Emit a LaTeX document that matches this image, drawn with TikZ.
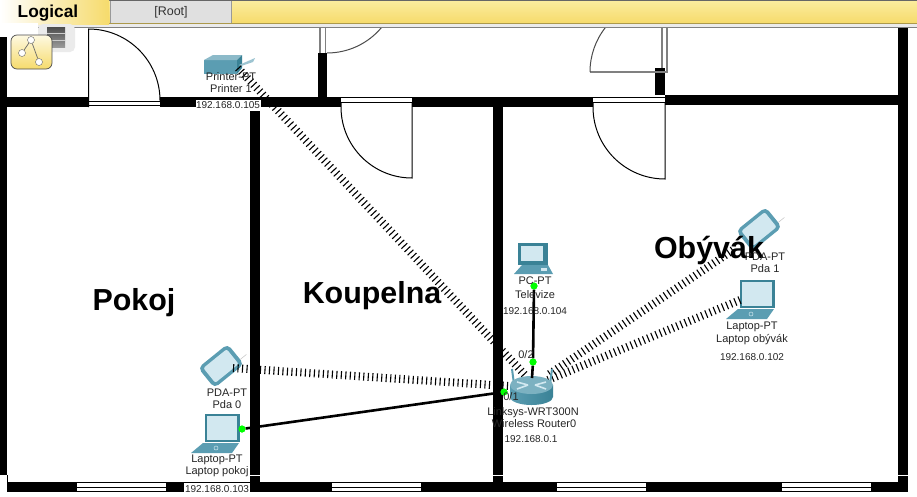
\documentclass[tikz,border=0pt]{standalone}
\usepackage{fontspec}
\setmainfont{Liberation Sans}
\usepackage{tikz}
\definecolor{devTeal}{HTML}{5B9DB2}
\definecolor{devLight}{HTML}{D2E8F0}
\definecolor{devDark}{HTML}{3A8296}
\definecolor{barTop}{HTML}{FBEC9F}
\definecolor{barLow}{HTML}{F6DB6C}
\tikzset{
  wall/.style={fill=black,draw=none},
  gap/.style={fill=white,draw=none},
  doorline/.style={draw=black,line width=1pt},
  greyline/.style={draw=black!50,line width=1.3pt},
  wire/.style={draw=black,line width=2.6pt},
  radio/.style={draw=black,line width=8pt,dash pattern=on 1.1pt off 3.4pt},
  port/.style={circle,fill=green,inner sep=0pt,minimum size=7pt},
  lbl/.style={font=\fontsize{11}{11}\selectfont,inner sep=0pt,text=black!85},
  iplbl/.style={font=\fontsize{10}{10}\selectfont,inner sep=0pt,text=black!85},
  room/.style={font=\fontsize{30.4}{30}\selectfont\bfseries,inner sep=0pt},
  laptop/.pic={
    \fill[devDark] (14,1) -- (49,1) -- (49,29) -- (14,29) -- cycle;
    \fill[devLight] (16,3) -- (46,3) -- (46,27) -- (16,27) -- cycle;
    \fill[devTeal] (12,30) -- (48,30) -- (41,40) -- (0,40) -- cycle;
    \draw[devLight,line width=.5pt] (25,35) circle (2);
  },
  pda/.pic={
    \fill[rounded corners=5pt,devTeal] (-13,-19) rectangle (13,19);
    \fill[rounded corners=2pt,devLight] (-9.5,-15) rectangle (9.5,15);
    \draw[black!20,line width=.6pt] (7,-19) -- (7,-27);
  },
  printer/.pic={
    \fill[devTeal] (0,5) rectangle (33,19);
    \fill[devTeal!70!white] (0,5) -- (9,0) -- (38,0) -- (33,5) -- cycle;
    \fill[devDark] (33,5) -- (38,0) -- (38,13) -- (33,19) -- cycle;
    \fill[devTeal!60!white] (35,10) -- (51,3) -- (49,7) -- (37,11) -- cycle;
  },
  desktop/.pic={
    \fill[devDark] (4,0) -- (34,0) -- (34,22) -- (4,22) -- cycle;
    \fill[devLight] (7,3) rectangle (29,18);
    \fill[devTeal] (8,22) -- (34,22) -- (39,31) -- (0,31) -- cycle;
    \fill[devLight] (27,25) rectangle (33,28);
  },
}
\begin{document}
\begin{tikzpicture}[x=1pt,y=-1pt]
\useasboundingbox (0,0) rectangle (917,496);
% walls
\fill[white] (0,0) rectangle (917,496);
\fill[wall] (0,97) rectangle (665,107); \fill[wall] (665,95) rectangle (908,105);
\fill[wall] (0,30) rectangle (7,475); \fill[wall] (898,28) rectangle (908,475);
\fill[wall] (250,107) rectangle (260,475); \fill[wall] (493,107) rectangle (503,475);
\fill[wall] (7,482) rectangle (908,492);
\fill[wall] (250,476) rectangle (260,482); \fill[wall] (493,476) rectangle (503,482); \fill[wall] (898,476) rectangle (908,482);
\draw[line width=.8pt] (7.4,475) -- (7.4,492);
\fill[wall] (318,53) rectangle (327,97); \fill[wall] (655,68) rectangle (665,95);
% windows
\foreach \winx in {77,332,557,782} {
  \fill[gap] (\winx,483) rectangle (\winx+89,487);
  \fill[gap] (\winx,488) rectangle (\winx+89,491);
}
% doors
\fill[gap] (89,97) rectangle (160,107); \fill[gap] (341,97) rectangle (412,107); \fill[gap] (593,97) rectangle (665,107);
\draw[doorline] (89,101) -- (160,101); \draw[doorline] (89,105.5) -- (160,105.5);
\draw[doorline] (341,97.5) -- (412,97.5); \draw[doorline] (341,102.5) -- (412,102.5);
\draw[doorline] (593,97.5) -- (665,97.5); \draw[doorline] (593,102.5) -- (665,102.5);
\draw[doorline] (88.5,107) -- (88.5,29) arc[start angle=90,end angle=0,radius=71.5pt];
\draw[doorline] (341,102) -- (341,107) arc[start angle=180,end angle=270,radius=71pt] -- (412,102);
\draw[doorline] (593,102) -- (593,107) arc[start angle=180,end angle=270,radius=72pt] -- (665,102);
\draw[greyline] (320,28) -- (320,53); \draw[greyline] (325.5,28) -- (325.5,53);
\draw[doorline,draw=black!70] (327,53) arc[start angle=270,end angle=320,radius=71pt];
\draw[greyline] (662,28) -- (662,68); \draw[greyline] (667,28) -- (667,72) -- (590,72);
\draw[doorline,draw=black!70] (590,72) arc[start angle=180,end angle=142,radius=72pt];
% devices
\pic at (204,55) {printer};
\pic at (191,413) {laptop};
\pic at (726,279) {laptop};
\pic at (514,243) {desktop};
\pic[rotate=-51] at (221,366) {pda};
\pic[rotate=-51] at (759,229) {pda};
\coordinate (printerEnd) at (238,68); \coordinate (pda0End) at (233,368);
\coordinate (pda1End) at (733,250); \coordinate (laptop1End) at (740,300);
\coordinate (routerA) at (525,375); \coordinate (routerB) at (508,386);
\coordinate (routerC) at (548,375); \coordinate (routerD) at (548,380);
\draw[radio] (printerEnd) -- (routerA);
\draw[radio] (pda0End) -- (routerB);
\draw[radio] (pda1End) -- (routerC);
\draw[radio] (laptop1End) -- (routerD);
% router
\draw[devTeal,line width=2pt] (512,369) -- (514,384) (552,369) -- (550,384);
\shade[left color=devTeal,middle color=white,right color=devDark] (510,385) -- (510,397) arc[start angle=180,end angle=360,x radius=21.5pt,y radius=8pt] -- (553,385) -- cycle;
\fill[devTeal!80!white] (531.5,385) ellipse (21.5 and 9);
\draw[devLight,line width=1.6pt] (517,382) -- (528,385) (546,382) -- (535,385) (517,389) -- (528,385) (546,389) -- (535,385);
% rooms
\node[room] (pokoj) at (134,303) {Pokoj};
\node[room] (koupelna) at (372,296) {Koupelna};
\node[room] (obyvak) at (709,250) {Obývák};
\node[port] (portLaptop) at (242,429) {}; \node[port] (portRouterA) at (504,392) {};
\node[port] (portPc) at (534,286) {}; \node[port] (portRouterB) at (533,362) {};
\coordinate (routerTop) at (532,378);
\draw[wire] (portLaptop) -- (portRouterA);
\draw[wire] (portPc) -- (portRouterB) -- (routerTop);
\node[port] at (portLaptop) {}; \node[port] at (portRouterA) {};
\node[port] at (portPc) {}; \node[port] at (portRouterB) {};
% labels
\node[lbl] (l1) at (231,77) {Printer-PT}; \node[lbl] (l2) at (231,89) {Printer 1};
\node[iplbl,fill=white,minimum width=65pt,minimum height=11pt] (l3) at (228,105.5) {192.168.0.105};
\node[lbl] (l4) at (227,393) {PDA-PT}; \node[lbl] (l5) at (227,405) {Pda 0};
\node[lbl] (l6) at (217,460) {Laptop-PT}; \node[lbl] (l7) at (217,472) {Laptop pokoj};
\node[iplbl,fill=white,minimum width=66pt,minimum height=12pt] (l8) at (217,489) {192.168.0.103};
\node[lbl] (l9) at (535,281) {PC-PT}; \node[lbl] (l10) at (535,295) {Televize};
\node[iplbl] (l11) at (535,311) {192.168.0.104};
\node[lbl] (l12) at (526,355) {0/2}; \node[lbl] (l13) at (511,397) {0/1};
\node[lbl] (l14) at (533,413) {Linksys-WRT300N}; \node[lbl] (l15) at (534,424) {Wireless Router0};
\node[iplbl] (l16) at (531,439) {192.168.0.1};
\node[lbl] (l17) at (765,257) {PDA-PT}; \node[lbl] (l18) at (765,269) {Pda 1};
\node[lbl] (l19) at (752,327) {Laptop-PT}; \node[lbl] (l20) at (752,340) {Laptop obývák};
\node[iplbl] (l21) at (752,357) {192.168.0.102};
% toolbar
\shade[top color=barTop,bottom color=barLow] (0,0) rectangle (917,23);
\fill[black!8] (0,23) rectangle (917,27);
\draw[black!60,line width=1pt] (0,.5) -- (917,.5); \draw[black!50,line width=1pt] (38,27.5) -- (917,27.5);
\draw[barLow!70!black,line width=1pt] (38,23.5) -- (917,23.5);
\shade[left color=white,right color=barLow] (0,0) rectangle (109,24);
\fill[black!12] (110,1) rectangle (231,23);
\draw[black!40,line width=.8pt] (110,1) -- (110,23) (231,1) -- (231,23);
\node[inner sep=0pt,text=black!80,font=\fontsize{12.5}{12}\selectfont] (tabRoot) at (171,12) {[Root]};
\node[font=\fontsize{17.3}{17}\selectfont\bfseries,inner sep=0pt] (tabLogical) at (48,13.5) {Logical};
\fill[rounded corners=5pt,black!8] (38,24) rectangle (75,52);
\shade[top color=black!70,bottom color=black!40] (47,27) rectangle (65,47);
\draw[black!20,line width=.6pt] (47,33) -- (65,33) (47,40) -- (65,40);
\fill[white] (0,23) rectangle (38,36); \fill[white] (0,36) rectangle (11,37);
\shade[rounded corners=6pt,top color=barTop!30!white,bottom color=barLow,draw=black!70,line width=.7pt] (11,35) rectangle (52,69);
\node[circle,draw=black!60,fill=white,inner sep=0pt,minimum size=7pt] (iconA) at (31,40) {};
\node[circle,draw=black!60,fill=white,inner sep=0pt,minimum size=7pt] (iconB) at (22,53) {};
\node[circle,draw=black!60,fill=white,inner sep=0pt,minimum size=7pt] (iconC) at (39,62) {};
\draw[black!60,line width=.7pt] (iconA) -- (iconB) (iconA) -- (iconC);
\end{tikzpicture}
\end{document}
